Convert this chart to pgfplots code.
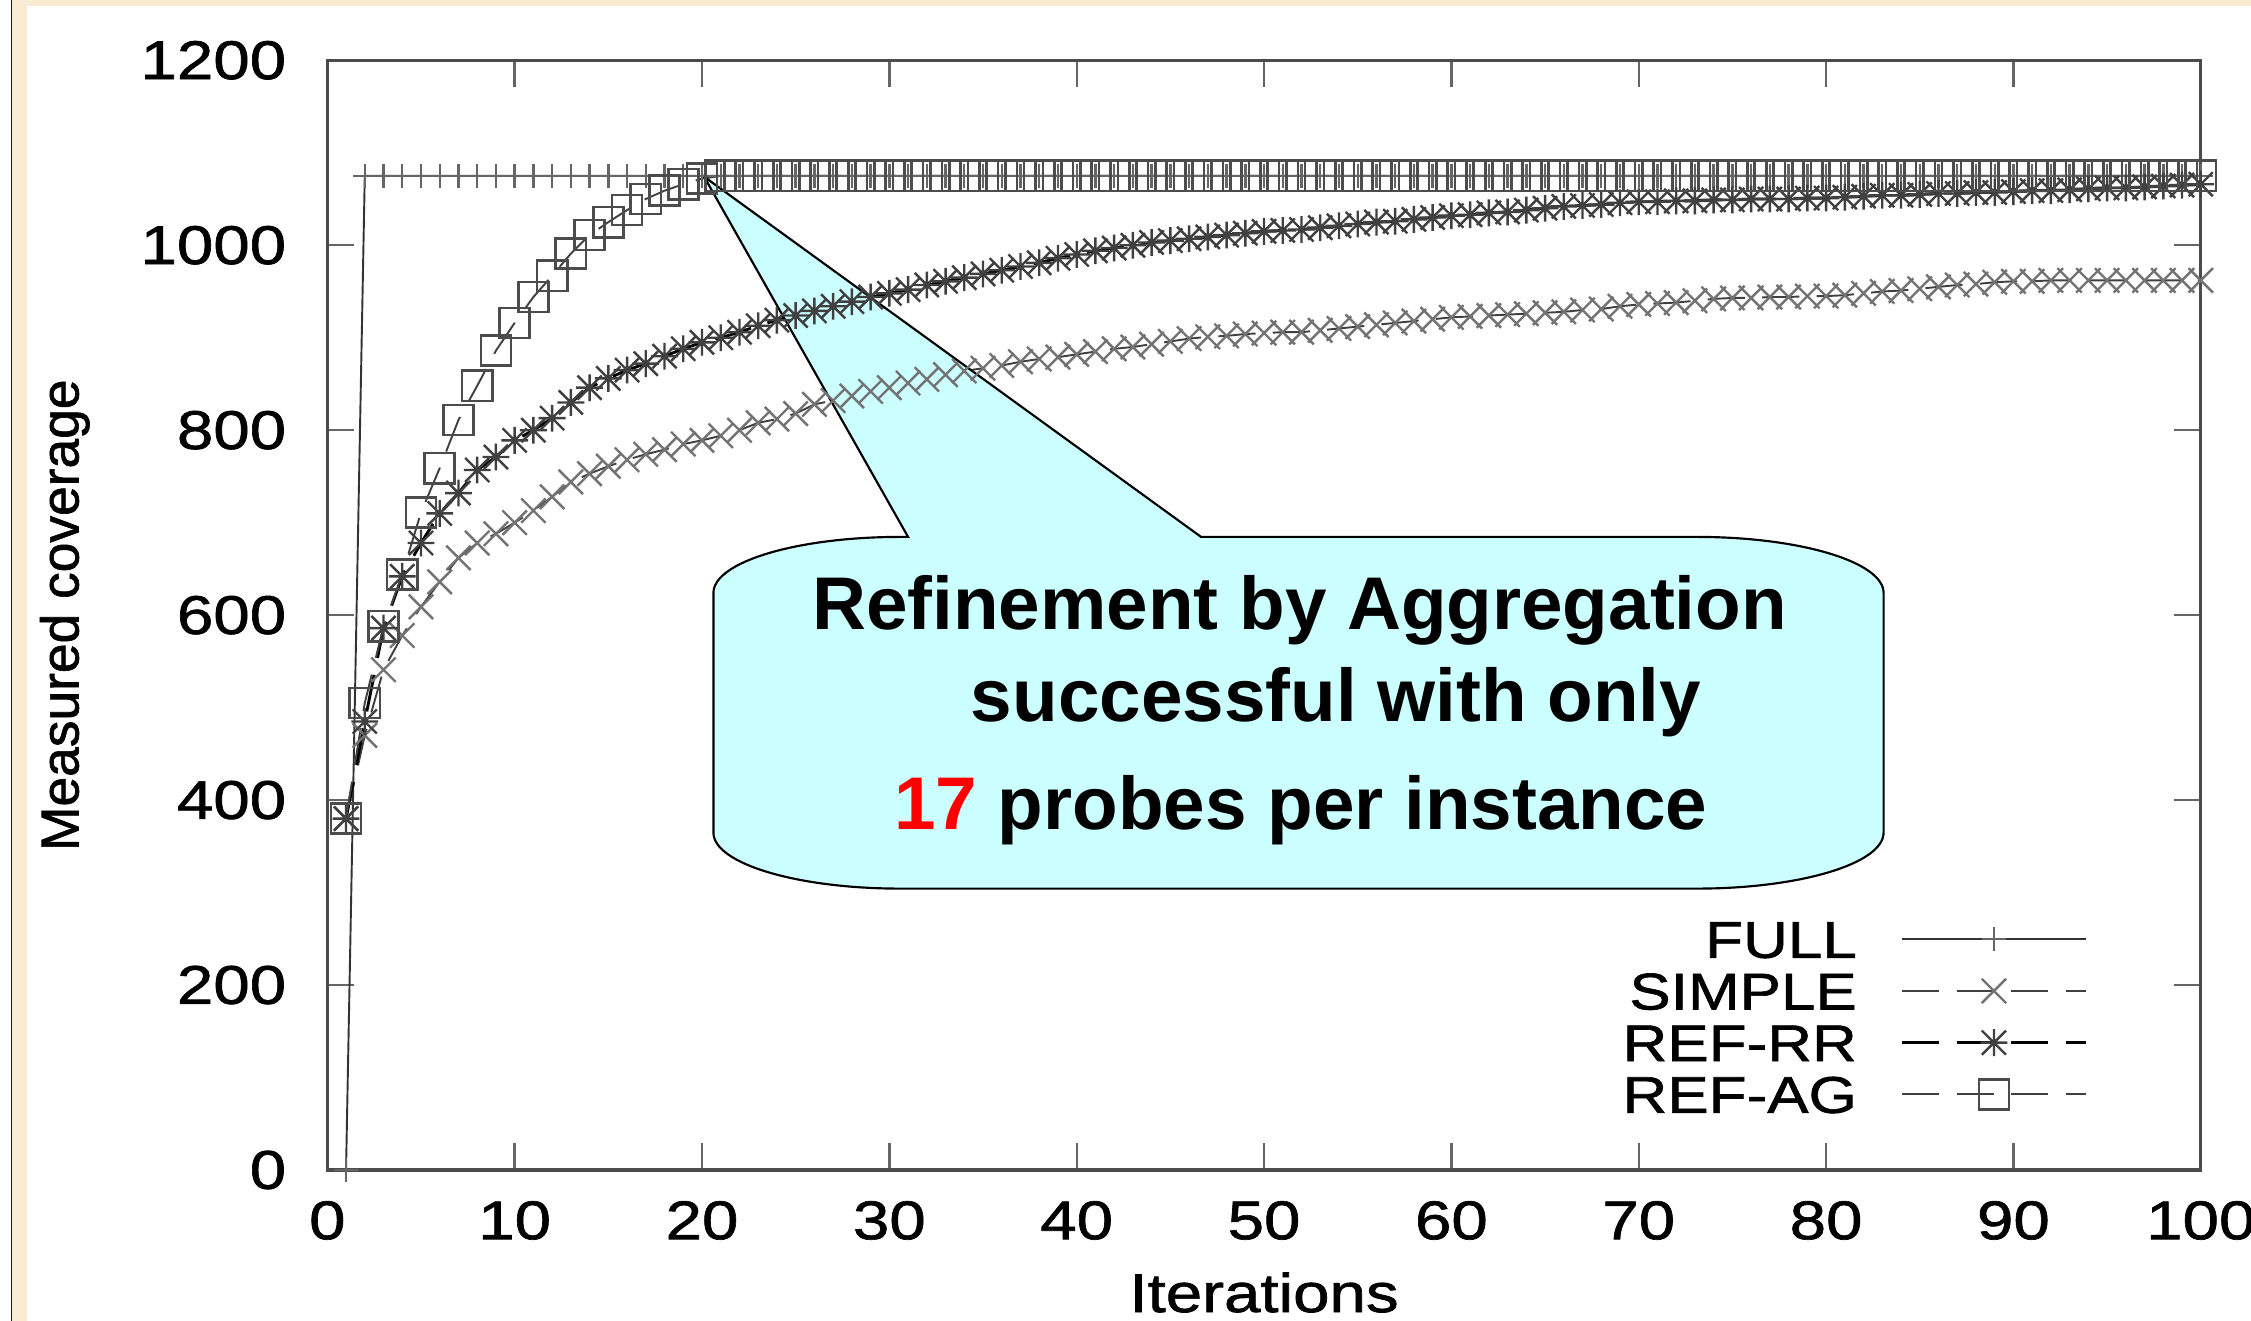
\documentclass[border=0pt]{standalone}
\usepackage{pgfplots}
\pgfplotsset{compat=1.18}
\usepackage{pgfplotstable}
\usepackage{fontspec}
\setmainfont{Liberation Sans}
\newfontfamily\gpfont{Liberation Sans}[FakeStretch=1.2,FakeBold=1.2]
\newfontfamily\gpyfont{Liberation Sans}[FakeBold=1.2]
\usetikzlibrary{plotmarks}
\definecolor{framebeige}{RGB}{250,235,211}
\definecolor{calloutfill}{RGB}{204,255,255}
\pgfdeclareplotmark{gpstar}{%
  \pgfpathmoveto{\pgfqpoint{-\pgfplotmarksize}{0pt}}%
  \pgfpathlineto{\pgfqpoint{\pgfplotmarksize}{0pt}}%
  \pgfpathmoveto{\pgfqpoint{0pt}{-\pgfplotmarksize}}%
  \pgfpathlineto{\pgfqpoint{0pt}{\pgfplotmarksize}}%
  \pgfpathmoveto{\pgfqpoint{-.9\pgfplotmarksize}{-.9\pgfplotmarksize}}%
  \pgfpathlineto{\pgfqpoint{.9\pgfplotmarksize}{.9\pgfplotmarksize}}%
  \pgfpathmoveto{\pgfqpoint{-.9\pgfplotmarksize}{.9\pgfplotmarksize}}%
  \pgfpathlineto{\pgfqpoint{.9\pgfplotmarksize}{-.9\pgfplotmarksize}}%
  \pgfusepathqstroke}

\pgfplotstableread{
x full simple refrr refag
1 0 380 380 380
2 1075 470 485 505
3 1075 541 586 588
4 1075 578 642 644
5 1075 609 678 711
6 1075 636 710 759
7 1075 662 732 811
8 1075 678 757 848
9 1075 688 771 886
10 1075 700 789 916
11 1075 713 800 944
12 1075 728 813 967
13 1075 744 830 991
14 1075 753 846 1011
15 1075 761 856 1025
16 1075 768 865 1038
17 1075 774 872 1050
18 1075 779 880 1059
19 1075 785 888 1066
20 1075 789 895 1072
21 1075 794 900 1075
22 1075 800 906 1075
23 1075 808 913 1075
24 1075 812 919 1075
25 1075 818 924 1075
26 1075 828 929 1075
27 1075 832 934 1075
28 1075 837 939 1075
29 1075 842 944 1075
30 1075 846 948 1075
31 1075 851 952 1075
32 1075 855 957 1075
33 1075 860 961 1075
34 1075 864 965 1075
35 1075 867 969 1075
36 1075 870 973 1075
37 1075 874 977 1075
38 1075 877 981 1075
39 1075 879 986 1075
40 1075 882 990 1075
41 1075 885 994 1075
42 1075 888 997 1075
43 1075 890 1000 1075
44 1075 893 1003 1075
45 1075 896 1005 1075
46 1075 899 1007 1075
47 1075 901 1009 1075
48 1075 902 1011 1075
49 1075 904 1013 1075
50 1075 905 1015 1075
51 1075 906 1016 1075
52 1075 906 1017 1075
53 1075 908 1019 1075
54 1075 910 1021 1075
55 1075 912 1023 1075
56 1075 914 1025 1075
57 1075 916 1026 1075
58 1075 918 1028 1075
59 1075 920 1030 1075
60 1075 922 1032 1075
61 1075 923 1033 1075
62 1075 924 1035 1075
63 1075 925 1036 1075
64 1075 926 1038 1075
65 1075 927 1040 1075
66 1075 928 1042 1075
67 1075 930 1043 1075
68 1075 931 1044 1075
69 1075 934 1046 1075
70 1075 936 1047 1075
71 1075 937 1047 1075
72 1075 938 1048 1075
73 1075 940 1048 1075
74 1075 942 1049 1075
75 1075 943 1049 1075
76 1075 943 1050 1075
77 1075 944 1050 1075
78 1075 944 1050 1075
79 1075 945 1051 1075
80 1075 945 1051 1075
81 1075 946 1052 1075
82 1075 948 1053 1075
83 1075 950 1054 1075
84 1075 951 1054 1075
85 1075 953 1055 1075
86 1075 955 1056 1075
87 1075 957 1056 1075
88 1075 958 1057 1075
89 1075 960 1057 1075
90 1075 961 1058 1075
91 1075 961 1059 1075
92 1075 962 1059 1075
93 1075 962 1060 1075
94 1075 962 1061 1075
95 1075 962 1062 1075
96 1075 962 1062 1075
97 1075 962 1063 1075
98 1075 962 1064 1075
99 1075 962 1065 1075
100 1075 962 1066 1075
}\data

\begin{document}
\begin{tikzpicture}
\path[use as bounding box] (-68.4pt,-31.5pt) rectangle (402pt,244.5pt);
\clip (-68.4pt,-31.5pt) rectangle (402pt,244.5pt);
\fill[white] (-68.4pt,-31.5pt) rectangle (402pt,244.5pt);
\fill[framebeige] (-65.8pt,-31.5pt) rectangle (-62.8pt,244.5pt);
\fill[framebeige] (-65.8pt,243.3pt) rectangle (402pt,244.5pt);
\fill[black!90] (-66.2pt,-31.5pt) rectangle (-65.8pt,244.5pt);
\begin{axis}[
  at={(0,0)}, anchor=south west,
  scale only axis, width=391.5pt, height=231.9pt,
  xmin=0, xmax=100, ymin=0, ymax=1200,
  xtick={0,10,...,100}, ytick={0,200,...,1200},
  minor tick num=0,
  tick align=inside, xtick pos=both, ytick pos=both,
  major tick length=5.6pt,
  tick style={black!60, line width=0.5pt},
  axis line style={black!70, line width=0.7pt},
  /pgf/number format/assume math mode=true,
  /pgf/number format/1000 sep={},
  tick label style={font=\gpfont\fontsize{11.4}{11.4}\selectfont, inner sep=0pt},
  yticklabel style={anchor=east, xshift=-8.4pt},
  xticklabel style={anchor=north, yshift=-6.3pt},
  xlabel={Iterations}, ylabel={Measured coverage},
  xlabel style={font=\gpfont\fontsize{11.4}{11.4}\selectfont, at={(axis description cs:0.5,-0.128)}, anchor=base, inner sep=0pt},
  ylabel style={font=\gpyfont\fontsize{11.15}{11.15}\selectfont, at={(axis description cs:-0.1328,0.5)}, anchor=base, inner sep=0pt},
  legend style={draw=none, fill=none, inner sep=0pt, outer sep=0pt,
    at={(0.9394,0.2312)}, anchor=north east,
    font=\gpfont\fontsize{10.8}{10.8}\selectfont,
    row sep=0pt, column sep=9.15pt,
    nodes={inner sep=0pt, text height=9.27pt, text depth=1.53pt}},
  legend cell align=right, legend plot pos=right,
  legend image code/.code={\draw[mark repeat=2,mark phase=2] plot coordinates {(0pt,0pt) (19.2pt,0pt) (38.4pt,0pt)};},
]
\addplot[black!80, line width=0.4pt, mark=+, mark size=2.5pt, mark options={black!60, line width=0.5pt, solid}] table[x=x,y=full]{\data};
\addlegendentry{FULL}
\addplot[black!75, line width=0.4pt, dash pattern=on 7.8pt off 3.6pt, mark=x, mark size=3.6pt, mark options={black!55, line width=0.5pt, solid}] table[x=x,y=simple]{\data};
\addlegendentry{SIMPLE}
\addplot[black, line width=0.6pt, dash pattern=on 7.8pt off 3.6pt, mark=gpstar, mark size=2.8pt, mark options={black!75, line width=0.5pt, solid}] table[x=x,y=refrr]{\data};
\addlegendentry{REF-RR}
\addplot[black!75, line width=0.4pt, dash pattern=on 7.8pt off 3.6pt, mark=square, mark size=3.15pt, mark options={black!70, line width=0.55pt, solid}] table[x=x,y=refag]{\data};
\addlegendentry{REF-AG}
% callout
\draw[black, line width=0.45pt, fill=calloutfill]
  (axis cs:31.0,684.6) -- (axis cs:20.11,1074.2) -- (axis cs:46.64,684.6)
  -- ([xshift=-39pt]axis cs:83.07,684.6)
  arc[start angle=90, end angle=0, x radius=39pt, y radius=11.7pt]
  -- ([yshift=11.7pt]axis cs:83.07,304.3)
  arc[start angle=0, end angle=-90, x radius=39pt, y radius=11.7pt]
  -- ([xshift=39pt]axis cs:20.61,304.3)
  arc[start angle=270, end angle=180, x radius=39pt, y radius=11.7pt]
  -- ([yshift=-11.7pt]axis cs:20.61,684.6)
  arc[start angle=180, end angle=90, x radius=39pt, y radius=11.7pt]
  -- cycle;
\node[anchor=base, inner sep=0pt, font=\bfseries\fontsize{15.6}{15.6}\selectfont] at (axis cs:51.90,584.5) {Refinement by Aggregation};
\node[anchor=base, inner sep=0pt, font=\bfseries\fontsize{15.6}{15.6}\selectfont] at (axis cs:53.84,485.3) {successful with only};
\node[anchor=base, inner sep=0pt, font=\bfseries\fontsize{15.6}{15.6}\selectfont] at (axis cs:51.96,368.2) {\textcolor{red}{17} probes per instance};
\end{axis}
\end{tikzpicture}
\end{document}
